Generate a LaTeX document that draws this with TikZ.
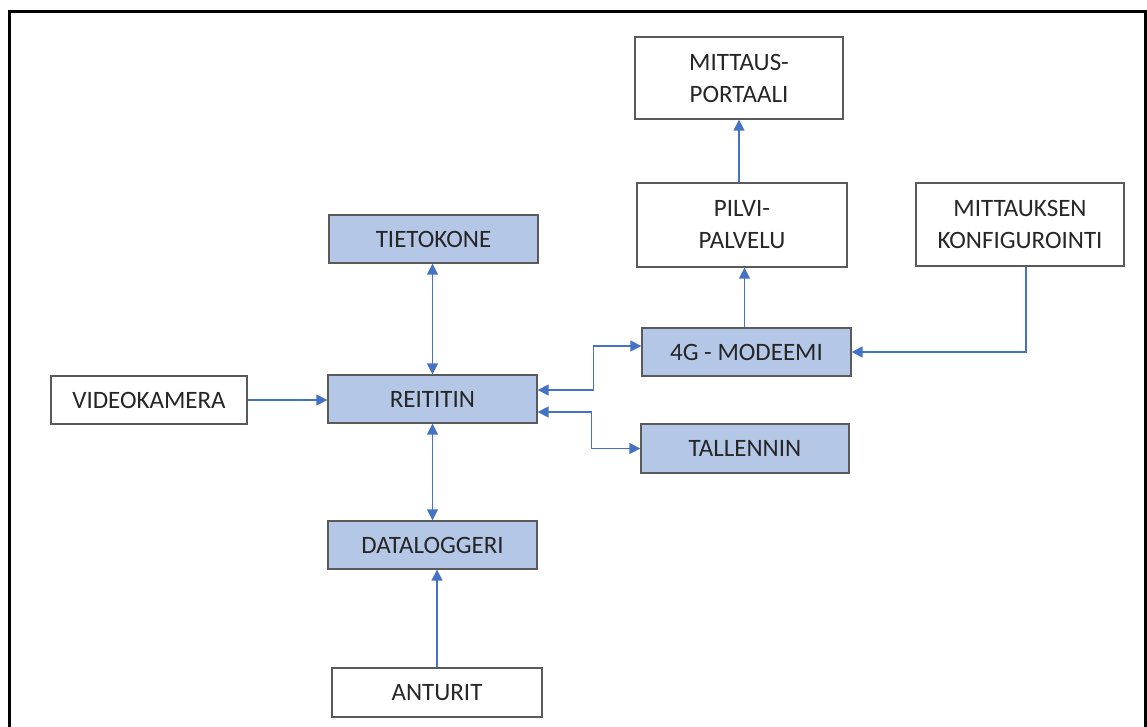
\documentclass[tikz,border=0pt]{standalone}
\usepackage{fontspec}
\setmainfont{Carlito}
\usetikzlibrary{arrows.meta,calc}
\definecolor{boxblue}{HTML}{B4C7E7}
\definecolor{arrblue}{HTML}{4472C4}
\definecolor{boxedge}{HTML}{5A5A5A}
\definecolor{txt}{HTML}{262626}
\tikzset{
  box/.style={draw=boxedge, line width=1.3pt, minimum width=209pt, minimum height=48pt,
    inner sep=0pt, align=center, text=txt, font=\fontsize{25}{32}\selectfont},
  bluebox/.style={box, fill=boxblue},
  whitebox/.style={box, fill=white},
  conn/.style={draw=arrblue, line width=1.4pt},
  arr/.style={conn, -{Triangle[length=11pt,width=11pt]}},
  darr/.style={conn, {Triangle[length=11pt,width=11pt]}-{Triangle[length=11pt,width=11pt]}}
}
\begin{document}
\begin{tikzpicture}[x=1pt,y=-1pt]
\useasboundingbox (0,0) rectangle (1147,727);
\draw[line width=2.5pt, black] (9.5,730) -- (9.5,11.5) -- (1145.5,11.5) -- (1145.5,730);

\node[whitebox, minimum width=208pt, minimum height=82pt] (portaali) at (739,78) {MITTAUS-\\PORTAALI};
\node[whitebox, minimum width=210pt, minimum height=84pt] (pilvi) at (742,225) {PILVI-\\PALVELU};
\node[whitebox, minimum width=208pt, minimum height=83pt] (konfig) at (1020,224.5) {MITTAUKSEN\\KONFIGUROINTI};
\node[bluebox] (modeemi) at (746.5,352) {4G - MODEEMI};
\node[bluebox, minimum width=208pt, minimum height=49pt] (tallennin) at (745,448.5) {TALLENNIN};
\node[bluebox] (tietokone) at (433.5,239) {TIETOKONE};
\node[bluebox] (reititin) at (432.5,399) {REITITIN};
\node[whitebox, minimum width=196pt] (video) at (149,400) {VIDEOKAMERA};
\node[bluebox] (datalog) at (432.5,545) {DATALOGGERI};
\node[whitebox, minimum width=210pt, minimum height=49pt] (anturit) at (437,692.5) {ANTURIT};

\draw[arr] ([xshift=-2pt]modeemi.north) -- ([xshift=-2pt]modeemi.north |- pilvi.south);
\draw[arr] (portaali.south |- pilvi.north) -- (portaali.south);
\draw[arr] ([xshift=6pt]konfig.south) |- (modeemi.east);
\draw[darr] ([yshift=9pt]reititin.east) -- ++(56,0) |- ([yshift=6pt]modeemi.west);
\draw[darr] ([yshift=-13pt]reititin.east) -- ++(54,0) |- (tallennin.west);
\draw[arr] (video.east) -- (video.east -| reititin.west);
\draw[darr] (reititin.north) -- (reititin.north |- tietokone.south);
\draw[darr] (reititin.south) -- (reititin.south |- datalog.north);
\draw[arr] (anturit.north) -- (anturit.north |- datalog.south);
\end{tikzpicture}
\end{document}
